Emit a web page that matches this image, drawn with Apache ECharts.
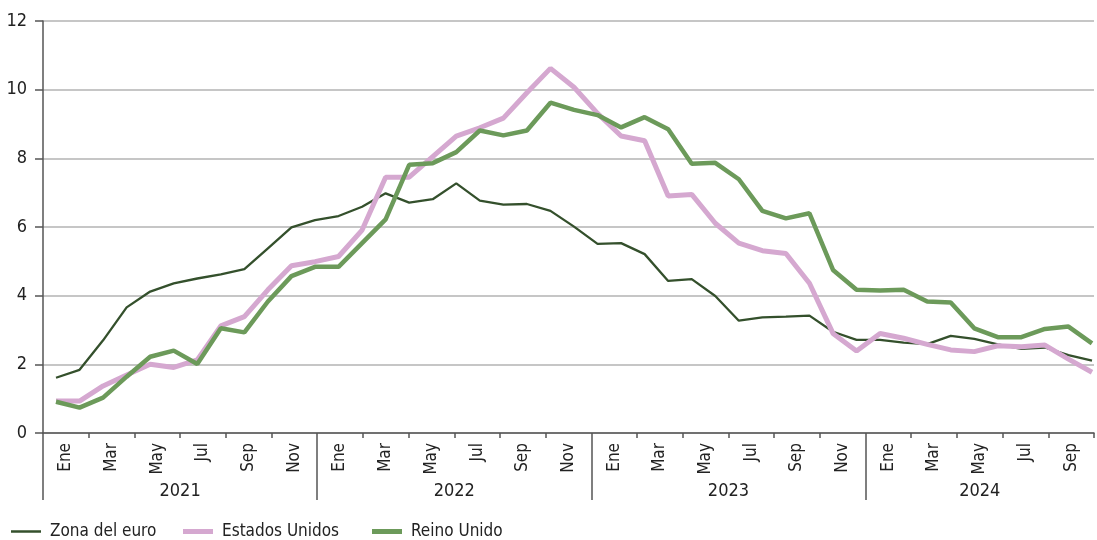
<!DOCTYPE html>
<html>
<head>
<meta charset="utf-8">
<script src="https://cdn.jsdelivr.net/npm/echarts@6/dist/echarts.min.js"></script>
<style>
    html, body { margin: 0; padding: 0; background: #fff; }
    #chart { width: 1097px; height: 540px; }
</style>
</head>
<body>
<div id="chart"></div>
<script>
const years = ['2021', '2022', '2023', '2024'];
const monthNames = ['Ene', 'Feb', 'Mar', 'Abr', 'May', 'Jun', 'Jul', 'Ago', 'Sep', 'Oct', 'Nov', 'Dic'];
const monthLabels = ['Ene', 'Mar', 'May', 'Jul', 'Sep', 'Nov'];

const zonaEuro = [1.61, 1.84, 2.7, 3.66, 4.12, 4.36, 4.5, 4.62, 4.77, 5.38, 5.99, 6.2,
    6.32, 6.59, 6.98, 6.71, 6.81, 7.27, 6.77, 6.65, 6.67, 6.47, 6.01, 5.51,
    5.53, 5.21, 4.43, 4.48, 3.99, 3.27, 3.37, 3.39, 3.42, 2.95, 2.71, 2.71,
    2.63, 2.59, 2.83, 2.74, 2.58, 2.45, 2.49, 2.27, 2.11];
const estadosUnidos = [0.93, 0.93, 1.37, 1.69, 2.0, 1.91, 2.13, 3.12, 3.39, 4.17, 4.87, 4.99,
    5.14, 5.91, 7.45, 7.45, 8.05, 8.65, 8.89, 9.17, 9.91, 10.62, 10.07, 9.31,
    8.65, 8.51, 6.9, 6.95, 6.11, 5.53, 5.31, 5.23, 4.36, 2.9, 2.39, 2.9,
    2.76, 2.58, 2.42, 2.37, 2.54, 2.51, 2.56, 2.15, 1.77];
const reinoUnido = [0.91, 0.74, 1.03, 1.64, 2.22, 2.4, 2.01, 3.05, 2.93, 3.83, 4.57, 4.84,
    4.84, 5.53, 6.22, 7.81, 7.86, 8.18, 8.81, 8.67, 8.81, 9.62, 9.41, 9.26,
    8.9, 9.2, 8.85, 7.84, 7.87, 7.39, 6.47, 6.25, 6.4, 4.75, 4.17, 4.15,
    4.17, 3.83, 3.8, 3.05, 2.79, 2.79, 3.03, 3.1, 2.61];

// months of the data, and month boundaries for the label axes
const months = zonaEuro.map((v, i) => monthNames[i % 12] + ' ' + years[Math.floor(i / 12)]);
const monthTicks = [];
const yearTicks = [];
for (let k = 0; k <= 46; k++) {
    monthTicks.push(k % 2 === 1 ? monthLabels[((k - 1) % 12) / 2] : '');
    yearTicks.push('');
}
[6, 18, 30, 41].forEach((k, i) => { yearTicks[k] = years[i]; });

const font = "'DejaVu Sans Condensed', 'Liberation Sans Narrow', sans-serif";
const axisColor = '#555';
const textColor = '#222';

const legendOf = (name, left, height) => ({
    data: [name],
    left: left,
    top: 518,
    icon: 'rect',
    itemWidth: 30,
    itemHeight: height,
    textStyle: { fontSize: 17, color: textColor, fontFamily: font, padding: [0, 0, 0, 4] }
});

const chart = echarts.init(document.getElementById('chart'));
chart.setOption({
    animation: false,
    textStyle: { fontFamily: font },
    grid: [
        { left: 56, right: 5, top: 21, bottom: 107 },
        { left: 43, width: 1061, top: 21, bottom: 107 }
    ],
    legend: [
        legendOf('Zona del euro', 6, 2.5),
        legendOf('Estados Unidos', 178, 5),
        legendOf('Reino Unido', 367, 5)
    ],
    xAxis: [
        { type: 'category', gridIndex: 0, data: months, boundaryGap: false, show: false },
        {
            type: 'category', gridIndex: 1, data: monthTicks, boundaryGap: false, position: 'bottom',
            axisLine: { lineStyle: { color: axisColor, width: 1.5 } },
            axisTick: { interval: i => i % 2 === 0, length: 5, lineStyle: { color: axisColor, width: 1.5 } },
            axisLabel: { interval: 0, rotate: 90, margin: 10, fontSize: 17, color: textColor, fontFamily: font }
        },
        {
            type: 'category', gridIndex: 1, data: yearTicks, boundaryGap: false, position: 'bottom',
            axisLine: { show: false },
            axisTick: { interval: i => i % 12 === 0, length: 67, lineStyle: { color: axisColor, width: 1.5 } },
            axisLabel: { interval: 0, margin: 49, fontSize: 18, color: textColor, fontFamily: font }
        }
    ],
    yAxis: [
        { type: 'value', gridIndex: 0, min: 0, max: 12, show: false },
        {
            type: 'value', gridIndex: 1, min: 0, max: 12, interval: 2,
            axisLine: { show: true, lineStyle: { color: axisColor, width: 1.5 } },
            axisTick: { show: true, length: 8, lineStyle: { color: axisColor, width: 1.5 } },
            axisLabel: { margin: 16, fontSize: 18, color: textColor, fontFamily: font },
            splitLine: { lineStyle: { color: '#b3b3b3', width: 1.5 } }
        }
    ],
    series: [
        {
            name: 'Zona del euro', type: 'line', data: zonaEuro, symbol: 'none',
            xAxisIndex: 0, yAxisIndex: 0,
            itemStyle: { color: '#34502c' },
            lineStyle: { color: '#34502c', width: 2.3 }
        },
        {
            name: 'Estados Unidos', type: 'line', data: estadosUnidos, symbol: 'none',
            xAxisIndex: 0, yAxisIndex: 0,
            itemStyle: { color: '#d5a8d0' },
            lineStyle: { color: '#d5a8d0', width: 5 }
        },
        {
            name: 'Reino Unido', type: 'line', data: reinoUnido, symbol: 'none',
            xAxisIndex: 0, yAxisIndex: 0,
            itemStyle: { color: '#6c9a5a' },
            lineStyle: { color: '#6c9a5a', width: 4.5 }
        }
    ]
});
</script>
</body>
</html>
